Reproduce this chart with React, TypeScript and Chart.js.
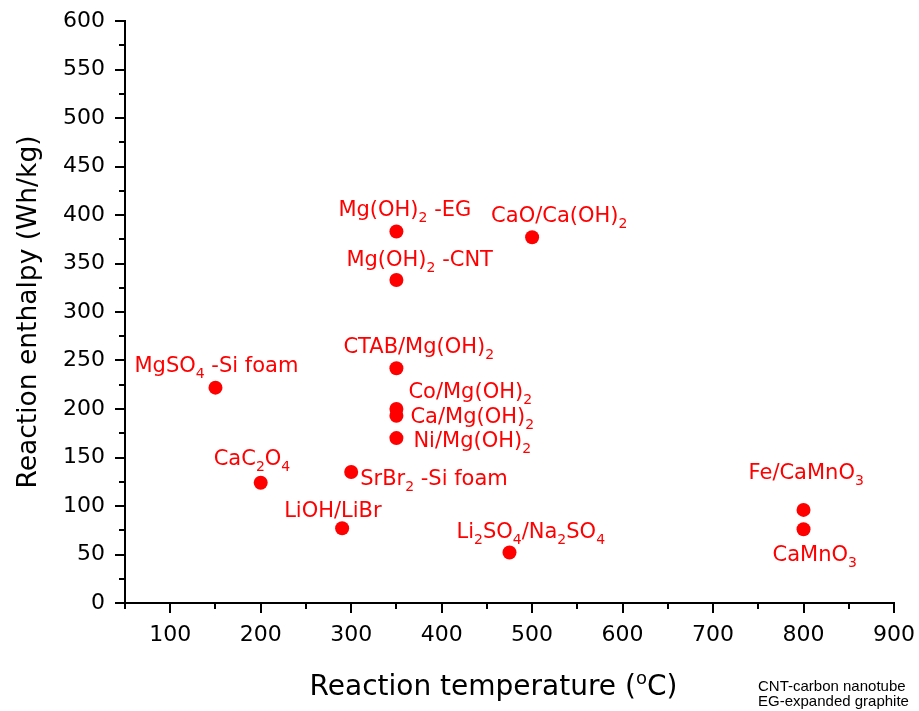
import React, { useEffect, useRef } from 'react';
import { Chart, registerables } from 'chart.js';

Chart.register(...registerables);

// ---------- data ----------
const materials = [
  'MgSO_4 -Si foam',
  'CaC_2O_4',
  'LiOH/LiBr',
  'SrBr_2 -Si foam',
  'CTAB/Mg(OH)_2',
  'Co/Mg(OH)_2',
  'Ca/Mg(OH)_2',
  'Ni/Mg(OH)_2',
  'Mg(OH)_2 -CNT',
  'Mg(OH)_2 -EG',
  'Li_2SO_4/Na_2SO_4',
  'CaO/Ca(OH)_2',
  'Fe/CaMnO_3',
  'CaMnO_3',
];
const temperatures = [150, 200, 290, 300, 350, 350, 350, 350, 350, 350, 475, 500, 800, 800];
const enthalpies = [222, 124, 77, 135, 242, 200, 193, 170, 333, 383, 52, 377, 96, 76];

const xTitle = 'Reaction temperature (^oC)';
const yTitle = 'Reaction enthalpy (Wh/kg)';
const notes = ['CNT-carbon nanotube', 'EG-expanded graphite'];

// ---------- styles ----------
const RED = '#ff0000';
const FAMILY = "'DejaVu Sans'";
// label placement: offset of text's left edge / baseline from the marker centre
const labelOffsets: Record<string, [number, number]> = {
  'MgSO_4 -Si foam': [-81, -16],
  'CaC_2O_4': [-47, -18],
  'LiOH/LiBr': [-58, -11],
  'SrBr_2 -Si foam': [9, 13],
  'CTAB/Mg(OH)_2': [-53, -15],
  'Co/Mg(OH)_2': [12, -11],
  'Ca/Mg(OH)_2': [14, 7],
  'Ni/Mg(OH)_2': [17, 9],
  'Mg(OH)_2 -CNT': [-50, -14],
  'Mg(OH)_2 -EG': [-58, -15],
  'Li_2SO_4/Na_2SO_4': [-53, -15],
  'CaO/Ca(OH)_2': [-41, -15],
  'Fe/CaMnO_3': [-55, -31],
  'CaMnO_3': [-31, 32],
};

type Seg = { t: string; k: 0 | 1 | 2 };
function parseRich(s: string): Seg[] {
  const out: Seg[] = [];
  let buf = '';
  for (let i = 0; i < s.length; i++) {
    const c = s[i];
    if ((c === '_' || c === '^') && i + 1 < s.length) {
      if (buf) {
        out.push({ t: buf, k: 0 });
        buf = '';
      }
      out.push({ t: s[i + 1], k: c === '_' ? 1 : 2 });
      i++;
    } else buf += c;
  }
  if (buf) out.push({ t: buf, k: 0 });
  return out;
}

function richWidth(ctx: CanvasRenderingContext2D, s: string, size: number, small: number) {
  let w = 0;
  for (const seg of parseRich(s)) {
    ctx.font = `${seg.k === 0 ? size : small}px ${FAMILY}`;
    w += ctx.measureText(seg.t).width;
  }
  return w;
}

function drawRich(
  ctx: CanvasRenderingContext2D,
  s: string,
  x: number,
  y: number,
  size: number,
  small: number,
  subShift: number,
  supShift: number,
  color: string
) {
  ctx.fillStyle = color;
  ctx.textAlign = 'left';
  ctx.textBaseline = 'alphabetic';
  let cx = x;
  for (const seg of parseRich(s)) {
    ctx.font = `${seg.k === 0 ? size : small}px ${FAMILY}`;
    const dy = seg.k === 1 ? subShift : seg.k === 2 ? -supShift : 0;
    ctx.fillText(seg.t, cx, y + dy);
    cx += ctx.measureText(seg.t).width;
  }
}

const decorPlugin = {
  id: 'decor',
  afterDraw(chart: any) {
    const { ctx, chartArea, scales } = chart;
    const xs = scales.x;
    const ys = scales.y;
    ctx.save();
    // tick marks (major + minor, outward)
    ctx.strokeStyle = '#000';
    ctx.lineWidth = 2;
    for (let v = xs.min; v <= xs.max; v += 50) {
      const px = Math.round(xs.getPixelForValue(v));
      const len = v % 100 === 0 ? 10 : 6;
      ctx.beginPath();
      ctx.moveTo(px, chartArea.bottom);
      ctx.lineTo(px, chartArea.bottom + len);
      ctx.stroke();
    }
    for (let v = ys.min; v <= ys.max; v += 25) {
      const py = Math.round(ys.getPixelForValue(v));
      const len = v % 50 === 0 ? 10 : 6;
      ctx.beginPath();
      ctx.moveTo(chartArea.left, py);
      ctx.lineTo(chartArea.left - len, py);
      ctx.stroke();
    }
    // point labels
    const meta = chart.getDatasetMeta(0);
    materials.forEach((name, i) => {
      const el = meta.data[i];
      const off = labelOffsets[name] || [10, -10];
      drawRich(ctx, name, el.x + off[0], el.y + off[1], 21, 14, 6, 8, RED);
    });
    // x axis title with superscript
    const tw = richWidth(ctx, xTitle, 28, 18);
    const cx = (chartArea.left + chartArea.right) / 2 - 16;
    drawRich(ctx, xTitle, cx - tw / 2, chartArea.bottom + 92, 28, 18, 0, 11, '#000');
    // footnote
    ctx.fillStyle = '#000';
    ctx.font = "15px 'Liberation Sans'";
    ctx.textAlign = 'left';
    ctx.textBaseline = 'alphabetic';
    notes.forEach((n, i) => {
      ctx.fillText(n, chartArea.right - 136, chartArea.bottom + 88 + i * 15);
    });
    ctx.restore();
  },
};

export default function App() {
  const ref = useRef<HTMLCanvasElement | null>(null);
  useEffect(() => {
    if (!ref.current) return;
    const tickFont = { family: FAMILY, size: 22 };
    const chart = new Chart(ref.current, {
      type: 'scatter',
      data: {
        datasets: [
          {
            data: temperatures.map((t, i) => ({ x: t, y: enthalpies[i] })),
            pointRadius: 7,
            pointHoverRadius: 7,
            backgroundColor: RED,
            borderColor: RED,
            borderWidth: 0,
          },
        ],
      },
      options: {
        responsive: false,
        animation: false,
        layout: { autoPadding: false, padding: { top: 21, right: 25, left: 0, bottom: 0 } },
        plugins: {
          legend: { display: false },
          tooltip: { enabled: false },
        },
        scales: {
          x: {
            type: 'linear',
            min: 50,
            max: 900,
            ticks: {
              stepSize: 100,
              autoSkip: false,
              maxRotation: 0,
              color: '#000',
              font: tickFont,
              padding: 19,
              callback: (v: any) => (v === 50 ? '' : String(v)),
            },
            grid: { display: false, drawTicks: false },
            border: { display: true, color: '#000', width: 2 },
            afterFit: (s: any) => {
              s.height = 108;
              s.paddingLeft = 0;
              s.paddingRight = 0;
            },
          },
          y: {
            type: 'linear',
            min: 0,
            max: 600,
            ticks: {
              stepSize: 50,
              autoSkip: false,
              color: '#000',
              font: tickFont,
              padding: 20,
            },
            grid: { display: false, drawTicks: false },
            border: { display: true, color: '#000', width: 2 },
            title: {
              display: true,
              text: yTitle,
              color: '#000',
              font: { family: FAMILY, size: 26.5 },
              padding: { top: 13, bottom: 0 },
            },
            afterFit: (s: any) => {
              s.width = 125;
              s.paddingTop = 0;
              s.paddingBottom = 0;
            },
          },
        },
      } as any,
      plugins: [decorPlugin],
    });
    return () => chart.destroy();
  }, []);
  return (
    <div style={{ position: 'absolute', left: 0, top: 0, width: 919, height: 711, background: '#fff' }}>
      <canvas ref={ref} width={919} height={711} style={{ display: 'block' }} />
    </div>
  );
}
